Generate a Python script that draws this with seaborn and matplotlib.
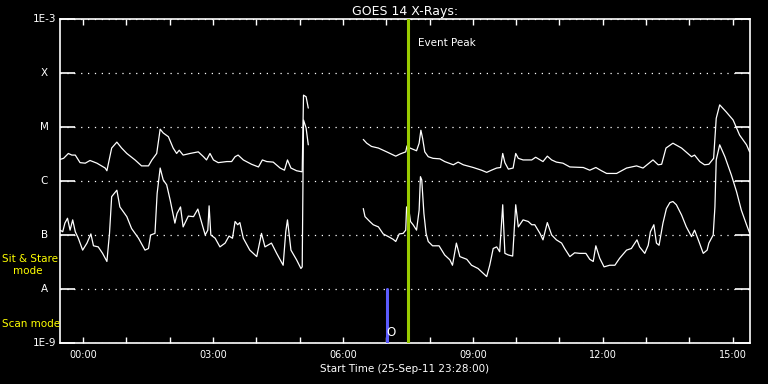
import matplotlib
matplotlib.use("Agg")
import matplotlib.pyplot as plt
import matplotlib.ticker as mticker
import numpy as np
import pandas as pd
import seaborn as sns

# ---- data (hours after 00:00 UT, log10 flux W/m^2) ----
# long channel (1-8 A), before and after the data gap
long_t1 = [-0.53, -0.45, -0.34, -0.26, -0.18, -0.07, 0.05, 0.16, 0.32, 0.51, 0.55, 0.66, 0.78,
           0.89, 1.01, 1.20, 1.35, 1.51, 1.59, 1.70, 1.78, 1.85, 1.97, 2.08, 2.16, 2.22, 2.31,
           2.47, 2.66, 2.78, 2.85, 2.93, 3.01, 3.12, 3.32, 3.43, 3.51, 3.58, 3.70, 3.89, 4.05,
           4.14, 4.24, 4.39, 4.55, 4.65, 4.72, 4.80, 4.93, 5.06, 5.09, 5.15, 5.20]
long_v1 = [-5.60, -5.58, -5.49, -5.52, -5.52, -5.66, -5.67, -5.62, -5.67, -5.76, -5.81, -5.39, -5.28,
           -5.39, -5.49, -5.61, -5.72, -5.72, -5.61, -5.49, -5.04, -5.11, -5.18, -5.39, -5.49, -5.43, -5.52,
           -5.49, -5.46, -5.55, -5.61, -5.49, -5.61, -5.66, -5.64, -5.64, -5.55, -5.52, -5.61, -5.69, -5.74,
           -5.61, -5.64, -5.65, -5.76, -5.80, -5.61, -5.76, -5.81, -5.83, -4.41, -4.44, -4.65]
long_t2 = [6.47, 6.55, 6.66, 6.82, 7.01, 7.22, 7.32, 7.45, 7.48, 7.55, 7.70, 7.76, 7.80, 7.84,
           7.89, 7.97, 8.08, 8.24, 8.35, 8.55, 8.66, 8.78, 9.01, 9.20, 9.32, 9.43, 9.55, 9.64,
           9.69, 9.74, 9.82, 9.93, 9.99, 10.05, 10.16, 10.36, 10.45, 10.62, 10.72, 10.82, 10.93,
           11.08, 11.24, 11.55, 11.70, 11.84, 11.97, 12.09, 12.32, 12.55, 12.78, 12.93, 13.16,
           13.28, 13.36, 13.46, 13.62, 13.82, 14.05, 14.12, 14.24, 14.35, 14.45, 14.56, 14.62,
           14.70, 14.85, 15.01, 15.16, 15.32, 15.39]
long_v2 = [-5.23, -5.30, -5.36, -5.39, -5.46, -5.54, -5.50, -5.46, -5.35, -5.39, -5.44, -5.30, -5.06, -5.21,
           -5.46, -5.55, -5.58, -5.59, -5.64, -5.70, -5.65, -5.70, -5.75, -5.80, -5.84, -5.80, -5.76, -5.75,
           -5.49, -5.66, -5.78, -5.76, -5.49, -5.58, -5.61, -5.61, -5.56, -5.64, -5.54, -5.61, -5.65,
           -5.67, -5.74, -5.75, -5.80, -5.75, -5.81, -5.86, -5.86, -5.76, -5.72, -5.76, -5.61,
           -5.70, -5.69, -5.39, -5.30, -5.39, -5.55, -5.52, -5.64, -5.70, -5.69, -5.58, -4.84,
           -4.59, -4.72, -4.87, -5.15, -5.33, -5.46]

# short channel (0.5-4 A)
short_t1 = [-0.53, -0.47, -0.42, -0.36, -0.30, -0.24, -0.18, -0.11, -0.01, 0.09, 0.18, 0.24, 0.35,
            0.45, 0.55, 0.61, 0.66, 0.78, 0.85, 1.01, 1.12, 1.28, 1.43, 1.51, 1.56, 1.66, 1.71,
            1.78, 1.85, 1.93, 2.01, 2.12, 2.17, 2.25, 2.31, 2.43, 2.55, 2.65, 2.72, 2.82, 2.88,
            2.91, 2.95, 3.05, 3.16, 3.28, 3.37, 3.45, 3.51, 3.57, 3.62, 3.70, 3.85, 4.01, 4.12,
            4.20, 4.35, 4.47, 4.62, 4.68, 4.72, 4.80, 4.93, 5.03, 5.06, 5.09, 5.15, 5.20]
short_v1 = [-6.91, -6.94, -6.78, -6.69, -6.91, -6.72, -6.94, -7.06, -7.28, -7.15, -6.98, -7.20, -7.22,
            -7.34, -7.49, -6.97, -6.29, -6.17, -6.48, -6.66, -6.88, -7.06, -7.28, -7.25, -7.00, -6.97, -6.23,
            -5.76, -5.98, -6.07, -6.35, -6.78, -6.60, -6.48, -6.85, -6.65, -6.66, -6.52, -6.72, -7.00, -6.91,
            -6.46, -7.00, -7.06, -7.22, -7.15, -7.02, -7.06, -6.75, -6.81, -6.77, -7.06, -7.28, -7.40, -6.97,
            -7.22, -7.15, -7.34, -7.56, -6.94, -6.72, -7.28, -7.46, -7.62, -7.59, -4.87, -5.02, -5.33]
short_t2 = [6.47, 6.51, 6.62, 6.70, 6.82, 6.93, 7.05, 7.16, 7.22, 7.30, 7.39, 7.45, 7.47, 7.53,
            7.56, 7.62, 7.70, 7.76, 7.79, 7.82, 7.87, 7.92, 7.97, 8.07, 8.22, 8.35, 8.47, 8.53,
            8.62, 8.70, 8.86, 8.97, 9.12, 9.24, 9.32, 9.39, 9.47, 9.55, 9.62, 9.69, 9.74, 9.82,
            9.92, 9.99, 10.05, 10.16, 10.28, 10.36, 10.43, 10.55, 10.62, 10.72, 10.82, 10.93,
            11.05, 11.12, 11.24, 11.35, 11.47, 11.61, 11.70, 11.78, 11.84, 11.93, 12.03, 12.16,
            12.28, 12.39, 12.55, 12.66, 12.79, 12.85, 12.97, 13.05, 13.10, 13.18, 13.24, 13.30,
            13.39, 13.47, 13.55, 13.62, 13.70, 13.82, 13.93, 14.05, 14.12, 14.22, 14.32, 14.41,
            14.45, 14.55, 14.59, 14.62, 14.70, 14.82, 14.97, 15.09, 15.20, 15.32, 15.39]
short_v2 = [-6.51, -6.66, -6.75, -6.81, -6.85, -6.98, -7.03, -7.08, -7.12, -6.98, -6.97, -6.91, -6.48, -6.57,
            -6.75, -6.81, -6.91, -6.54, -5.92, -5.98, -6.60, -6.97, -7.12, -7.20, -7.20, -7.37, -7.46, -7.56,
            -7.15, -7.40, -7.45, -7.56, -7.62, -7.71, -7.77, -7.56, -7.25, -7.22, -7.31, -6.44, -7.34, -7.37,
            -7.39, -6.44, -6.85, -6.72, -6.75, -6.81, -6.81, -6.97, -7.09, -6.77, -7.00, -7.09,
            -7.15, -7.25, -7.40, -7.33, -7.34, -7.34, -7.45, -7.49, -7.20, -7.43, -7.59, -7.56,
            -7.56, -7.43, -7.28, -7.25, -7.09, -7.22, -7.34, -7.19, -6.94, -6.81, -7.15, -7.19,
            -6.78, -6.51, -6.40, -6.38, -6.44, -6.63, -6.85, -7.03, -6.91, -7.12, -7.34, -7.28,
            -7.15, -7.00, -6.48, -5.61, -5.33, -5.55, -5.89, -6.20, -6.54, -6.81, -6.96]

event_peak = 7.50        # hours
scan_mark = 7.02         # hours, blue scan-mode marker
x_range = (-0.533, 15.4)  # 23:28 start
hour_labels = ["00:00", "03:00", "06:00", "09:00", "12:00", "15:00"]
class_levels = [1e-9, 1e-8, 1e-7, 1e-6, 1e-5, 1e-4, 1e-3]
class_labels = ["1E-9", "A", "B", "C", "M", "X", "1E-3"]

# ---- build a long table for seaborn ----
parts = []
for seg, (t, v, ch) in enumerate([(long_t1, long_v1, "long"), (long_t2, long_v2, "long"),
                                  (short_t1, short_v1, "short"), (short_t2, short_v2, "short")]):
    parts.append(pd.DataFrame({"hour": t, "flux": np.power(10.0, v), "channel": ch, "seg": seg}))
df = pd.concat(parts, ignore_index=True)

sns.set_style("dark")
plt.rcParams["font.family"] = ["DejaVu Sans"]

fig = plt.figure(figsize=(7.68, 3.84), dpi=100, facecolor="black")
ax = fig.add_axes([60 / 768, 41 / 384, 690 / 768, 324 / 384])
ax.set_facecolor("black")

sns.lineplot(
    data=df, x="hour", y="flux", hue="channel", units="seg",
    estimator=None, sort=False, palette={"long": "white", "short": "white"},
    linewidth=0.9, legend=False, ax=ax,
)

ax.set_yscale("log")
ax.set_ylim(1e-9, 1e-3)
ax.set_xlim(*x_range)

# event peak and scan marker
ax.axvline(event_peak, color="#99cc00", lw=2.2, zorder=3)
ax.plot([scan_mark, scan_mark], [1e-9, 1e-8], color="#5c5cff", lw=2.2, zorder=3)
ax.text(scan_mark + 0.09, 10 ** -8.81, "O", color="white", fontsize=8.5,
        ha="center", va="center")
ax.text(event_peak + 0.23, 10 ** -3.45, "Event Peak", color="white", fontsize=7.5,
        ha="left", va="center")

# y axis: GOES classes
ax.set_yticks(class_levels)
ax.set_yticklabels([])
ax.yaxis.set_minor_locator(mticker.NullLocator())
ax.tick_params(axis="y", which="major", direction="in", length=10.5, width=1.2,
               color="white", left=True, right=True)
ytr = ax.get_yaxis_transform()
for lev, lab in zip(class_levels, class_labels):
    if lab.startswith("1E"):
        ax.text(-0.005, lev, lab, transform=ytr, color="white", fontsize=7.5,
                ha="right", va="center")
    else:
        ax.text(-0.023, lev, lab, transform=ytr, color="white", fontsize=7.5,
                ha="center", va="center")

ax.grid(axis="y", which="major", color="white", linestyle=(0, (1, 4.5)), linewidth=0.9)
ax.grid(axis="x", visible=False)

# x axis: hours
ax.set_xticks([0, 3, 6, 9, 12, 15])
ax.set_xticklabels(hour_labels)
ax.xaxis.set_minor_locator(mticker.FixedLocator([h for h in range(1, 16) if h % 3]))
ax.tick_params(axis="x", which="both", direction="in", length=4.5, width=1,
               color="white", top=True, bottom=True, labelcolor="white",
               labelsize=7, pad=5)
ax.set_xlabel("Start Time (25-Sep-11 23:28:00)", color="white", fontsize=7.5, labelpad=3)
ax.set_ylabel("")
ax.set_title("GOES 14 X-Rays:", color="white", fontsize=9, pad=3)

for sp in ax.spines.values():
    sp.set_color("white")
    sp.set_linewidth(1.2)

# mode annotations on the left margin
fig.text(2 / 768, 1 - 259 / 384, "Sit & Stare", color="yellow", fontsize=7.5, ha="left", va="center")
fig.text(13 / 768, 1 - 271 / 384, "mode", color="yellow", fontsize=7.5, ha="left", va="center")
fig.text(2 / 768, 1 - 324 / 384, "Scan mode", color="yellow", fontsize=7.5, ha="left", va="center")

fig.savefig("out.png", dpi=100, facecolor="black")
plt.close(fig)
